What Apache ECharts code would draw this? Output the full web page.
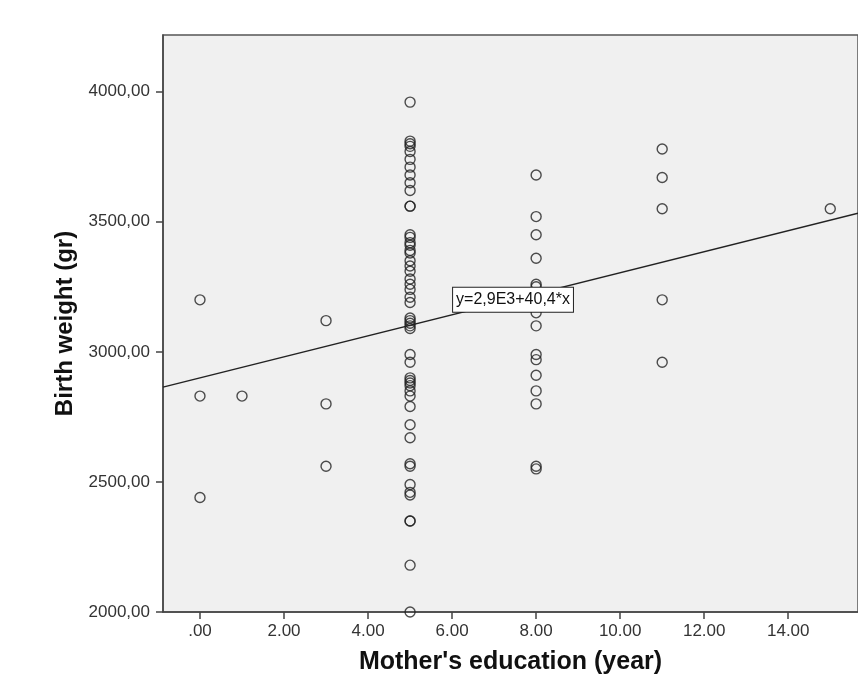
<!DOCTYPE html>
<html>
<head>
<meta charset="utf-8">
<script src="https://cdn.jsdelivr.net/npm/echarts@6/dist/echarts.min.js"></script>
<style>
html,body{margin:0;padding:0;background:#fff;}
#chart{width:858px;height:688px;}
</style>
</head>
<body>
<div id="chart"></div>
<script>
// Data
const edu0 = [3200, 2830, 2440];
const edu1 = [2830];
const edu3 = [3120, 2800, 2560];
const edu5 = [3960, 3810, 3800, 3790, 3770, 3740, 3710, 3680, 3650, 3620, 3560, 3560,
  3450, 3440, 3420, 3410, 3390, 3380, 3350, 3330, 3310, 3280, 3260, 3240, 3210, 3190,
  3130, 3120, 3110, 3100, 3090, 2990, 2960, 2900, 2890, 2880, 2870, 2850, 2830, 2790,
  2720, 2670, 2570, 2560, 2490, 2460, 2450, 2350, 2350, 2180, 2000];
const edu8 = [3680, 3520, 3450, 3360, 3260, 3250, 3200, 3150, 3100, 2990, 2970, 2910,
  2850, 2800, 2560, 2550];
const edu11 = [3780, 3670, 3550, 3200, 2960];
const edu15 = [3550];
const groups = [[0, edu0], [1, edu1], [3, edu3], [5, edu5], [8, edu8], [11, edu11], [15, edu15]];

const fitIntercept = 2900;
const fitSlope = 40.4;
const fitLabel = 'y=2,9E3+40,4*x';

const xTicks = [0, 2, 4, 6, 8, 10, 12, 14];
const yTicks = [2000, 2500, 3000, 3500, 4000];

const xMin = -0.88, xMax = 15.66;
const yMin = 2000, yMax = 4218;

const points = [];
groups.forEach(([x, ys]) => ys.forEach(y => points.push([x, y])));

const fitLine = [xMin, xMax].map(x => [x, fitIntercept + fitSlope * x]);

const chart = echarts.init(document.getElementById('chart'));
const font = 'Liberation Sans, Arial, sans-serif';
chart.setOption({
  animation: false,
  backgroundColor: '#ffffff',
  grid: {
    left: 163, top: 35, right: -3, bottom: 76,
    show: true, backgroundColor: '#f0f0f0', borderColor: '#555', borderWidth: 1.5
  },
  xAxis: {
    type: 'value', min: xMin, max: xMax,
    name: "Mother's education (year)", nameLocation: 'middle', nameGap: 38,
    nameTextStyle: { fontFamily: font, fontSize: 25, fontWeight: 'bold', color: '#111' },
    axisLine: { show: true, onZero: false, lineStyle: { color: '#444', width: 1.5 } },
    axisTick: { show: true, length: 7, customValues: xTicks, lineStyle: { color: '#444', width: 1.5 } },
    axisLabel: {
      customValues: xTicks, margin: 11,
      fontFamily: font, fontSize: 17, color: '#333',
      formatter: v => v === 0 ? '.00' : v.toFixed(2)
    },
    splitLine: { show: false }
  },
  yAxis: {
    type: 'value', min: yMin, max: yMax,
    name: 'Birth weight (gr)', nameLocation: 'middle', nameGap: 86,
    nameTextStyle: { fontFamily: font, fontSize: 24, fontWeight: 'bold', color: '#111' },
    axisLine: { show: true, onZero: false, lineStyle: { color: '#444', width: 1.5 } },
    axisTick: { show: true, length: 7, customValues: yTicks, lineStyle: { color: '#444', width: 1.5 } },
    axisLabel: {
      customValues: yTicks, margin: 13,
      fontFamily: font, fontSize: 17, color: '#333',
      formatter: v => v.toFixed(2).replace('.', ',')
    },
    splitLine: { show: false }
  },
  series: [
    {
      type: 'line', data: fitLine, symbol: 'none', silent: true, clip: true,
      lineStyle: { color: '#222', width: 1.5 },
      z: 1,
      markPoint: {
        symbol: 'rect', symbolSize: [0, 0],
        data: [{ coord: [7.45, 3200], value: fitLabel }],
        label: {
          show: true, position: 'inside', formatter: fitLabel,
          fontFamily: font, fontSize: 16, color: '#111',
          backgroundColor: '#ffffff', borderColor: '#222', borderWidth: 1,
          padding: [4, 3, 4, 3]
        }
      }
    },
    {
      type: 'scatter', data: points, symbol: 'circle', symbolSize: 10,
      itemStyle: { color: 'rgba(0,0,0,0)', borderColor: '#222', borderWidth: 1.4 },
      z: 2
    }
  ]
});
</script>
</body>
</html>
